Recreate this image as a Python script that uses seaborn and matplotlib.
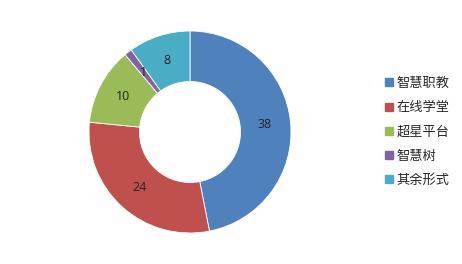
import matplotlib
matplotlib.use("Agg")
import matplotlib.pyplot as plt
import seaborn as sns
import numpy as np
from matplotlib.lines import Line2D

categories = ["智慧职教", "在线学堂", "超星平台", "智慧树", "其余形式"]
values = [38, 24, 10, 1, 8]
colors = ["#4F81BD", "#C0504D", "#9BBB59", "#8064A2", "#4BACC6"]

sns.set_theme(style="white")
plt.rcParams['font.family'] = ['Noto Sans CJK SC', 'DejaVu Sans']

palette = sns.color_palette(colors)

fig = plt.figure(figsize=(4.62, 2.64), dpi=100)
ax = fig.add_axes([89/462, 31/264, 202/462, 202/264])

wedges, texts = ax.pie(values, colors=palette, startangle=90, counterclock=False,
                       radius=1.0, wedgeprops=dict(width=0.5, edgecolor="white", linewidth=0.6))
for w, v in zip(wedges, values):
    ang = np.deg2rad((w.theta1 + w.theta2) / 2)
    r = 0.745
    ax.text(r*np.cos(ang), r*np.sin(ang), str(v), ha="center", va="center",
            fontsize=9, color="#222222", family=['Open Sans', 'DejaVu Sans'])
ax.set_xlim(-1, 1)
ax.set_ylim(-1, 1)
ax.set_aspect("equal")
ax.axis("off")

handles = [Line2D([0], [0], marker='s', linestyle='none', markersize=5.5,
                  markerfacecolor=c, markeredgecolor=c) for c in palette]
fig.legend(handles, categories, loc="center left", bbox_to_anchor=(380/462, 132/264),
           frameon=False, fontsize=9.5, labelspacing=0.85, handlelength=0.6,
           handletextpad=0.25, borderaxespad=0)

fig.savefig("out.png", dpi=100)
